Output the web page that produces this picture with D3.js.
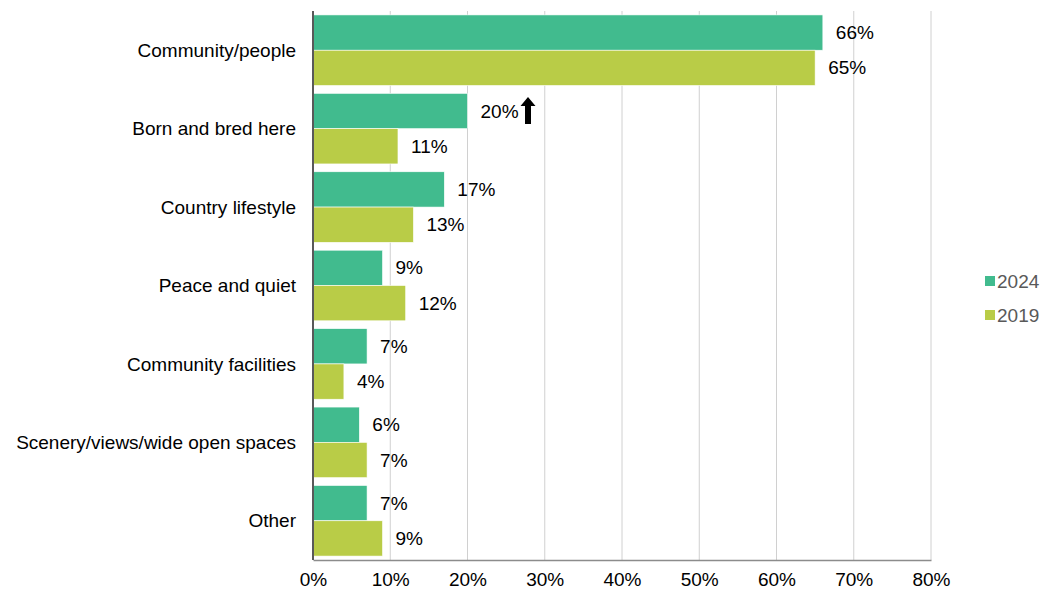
<!DOCTYPE html>
<html>
<head>
<meta charset="utf-8">
<script src="https://cdn.jsdelivr.net/npm/d3@7"></script>
<style>
  body { margin: 0; background: #fff; }
  svg { font-family: "Liberation Sans", Arial, sans-serif; }
</style>
</head>
<body>
<svg id="chart" width="1044" height="595"></svg>
<script>
// Reasons for living in the area, share of respondents
const categories = [
  "Community/people",
  "Born and bred here",
  "Country lifestyle",
  "Peace and quiet",
  "Community facilities",
  "Scenery/views/wide open spaces",
  "Other"
];
const values2024 = [66, 20, 17, 9, 7, 6, 7];
const values2019 = [65, 11, 13, 12, 4, 7, 9];
const seriesNames = ["2024", "2019"];
const seriesColors = ["#41bb8e", "#b9cc47"];
const xTicks = [0, 10, 20, 30, 40, 50, 60, 70, 80];
// categories flagged with a significant increase
const increased = ["Born and bred here"];

const FS = 19;
const svg = d3.select("#chart");
const margin = { left: 313, right: 113, top: 11, bottom: 35 };
const W = 1044, H = 595;

const x = d3.scaleLinear().domain([0, 80]).range([margin.left, W - margin.right]);
const y = d3.scaleBand().domain(categories).range([margin.top, H - margin.bottom]).paddingInner(0.1).paddingOuter(0.05);
const sub = d3.scaleBand().domain(seriesNames).range([0, y.bandwidth()]);

// gridlines
svg.append("g").selectAll("line").data(xTicks.filter(d => d > 0)).join("line")
  .attr("x1", d => x(d)).attr("x2", d => x(d))
  .attr("y1", margin.top).attr("y2", H - margin.bottom)
  .attr("stroke", "#d0d0d0").attr("stroke-width", 1);

const rows = categories.map((c, i) => ({ cat: c, vals: [values2024[i], values2019[i]] }));

const groups = svg.append("g").selectAll("g").data(rows).join("g")
  .attr("transform", d => `translate(0,${y(d.cat)})`);

groups.selectAll("rect").data(d => d.vals.map((v, j) => ({ v, s: seriesNames[j], c: seriesColors[j] }))).join("rect")
  .attr("x", x(0))
  .attr("y", d => sub(d.s))
  .attr("width", d => x(d.v) - x(0))
  .attr("height", sub.bandwidth())
  .attr("fill", d => d.c)
  .attr("stroke", "#fff").attr("stroke-width", 0.6);

groups.selectAll("text.val").data(d => d.vals.map((v, j) => ({ v, s: seriesNames[j] }))).join("text")
  .attr("class", "val")
  .attr("x", d => x(d.v) + 13)
  .attr("y", d => sub(d.s) + sub.bandwidth() / 2)
  .attr("dy", "0.35em")
  .attr("font-size", FS)
  .attr("fill", "#000")
  .text(d => d.v + "%");

// up arrows next to increased values
rows.filter(r => increased.includes(r.cat)).forEach(r => {
  const bx = x(r.vals[0]) + 13 + 40;
  const cy = y(r.cat) + sub("2024") + sub.bandwidth() / 2;
  svg.append("path")
    .attr("d", `M${bx + 7.5},${cy - 14} L${bx + 15},${cy - 5} L${bx + 10.5},${cy - 5} L${bx + 10.5},${cy + 13} L${bx + 4.5},${cy + 13} L${bx + 4.5},${cy - 5} L${bx},${cy - 5} Z`)
    .attr("fill", "#000");
});

// category labels
svg.append("g").selectAll("text").data(categories).join("text")
  .attr("x", 296)
  .attr("y", d => y(d) + y.bandwidth() / 2)
  .attr("dy", "0.35em")
  .attr("text-anchor", "end")
  .attr("font-size", FS)
  .attr("fill", "#000")
  .text(d => d);

// x axis
const xAxis = svg.append("g").attr("transform", `translate(0,${H - margin.bottom})`)
  .call(d3.axisBottom(x).tickValues(xTicks).tickFormat(d => d + "%").tickSize(0).tickPadding(13));
xAxis.select(".domain").attr("stroke", "#8c8c8c").attr("stroke-width", 1.5);
xAxis.selectAll("text").attr("font-size", FS).attr("fill", "#000")
  .attr("font-family", "Liberation Sans, Arial, sans-serif");

// y axis line
svg.append("line")
  .attr("x1", x(0)).attr("x2", x(0))
  .attr("y1", margin.top).attr("y2", H - margin.bottom)
  .attr("stroke", "#595959").attr("stroke-width", 2);

// legend
const legend = svg.append("g").selectAll("g").data(seriesNames).join("g")
  .attr("transform", (d, i) => `translate(985,${281 + i * 34})`);
legend.append("rect").attr("x", 0).attr("y", -5).attr("width", 10).attr("height", 10)
  .attr("fill", (d, i) => seriesColors[i]);
legend.append("text").attr("x", 12).attr("y", 0).attr("dy", "0.35em")
  .attr("font-size", FS).attr("fill", "#595959").text(d => d);
</script>
</body>
</html>
